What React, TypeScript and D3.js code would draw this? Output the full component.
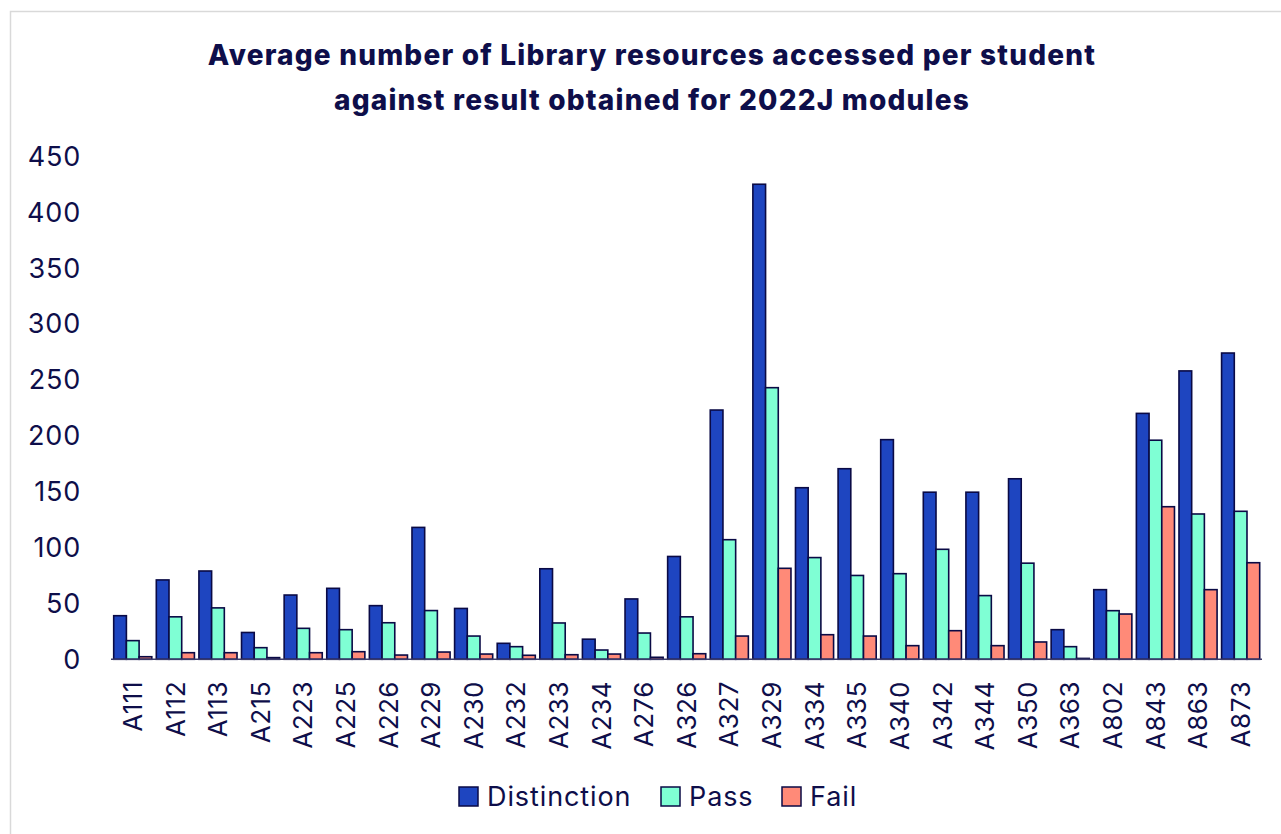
import React from "react";
import * as d3 from "d3";

const categories = ["A111","A112","A113","A215","A223","A225","A226","A229","A230","A232","A233","A234","A276","A326","A327","A329","A334","A335","A340","A342","A344","A350","A363","A802","A843","A863","A873"];
const distinction = [39,71,79,24,57.5,63.5,48,118,45.5,14.3,81,18,54,92,223,425,153.5,170.5,196.5,149.5,149.5,161.5,26.5,62.3,220,258,274];
const pass = [16.7,38,46,10.4,27.7,26.5,32.7,43.6,20.8,11.3,32.5,8.3,23.5,38,107,243,91,75,76.6,98.4,57,86,11.3,43.5,196,130,132.4];
const fail = [2.3,5.9,5.9,1.5,5.9,6.8,3.8,6.5,4.7,3.6,4.1,4.7,1.8,5,20.8,81.4,22,20.8,12.2,25.6,12.2,15.5,0.8,40.5,136.5,62.3,86.4];
const seriesNames = ["Distinction","Pass","Fail"];
const seriesColors = ["#1E45C0","#7FFFD4","#FF8A78"];
const yTicks = [0,50,100,150,200,250,300,350,400,450];
const titleLines = ["Average number of Library resources accessed per student","against result obtained for 2022J modules"];

const W = 1281, H = 834;
const TEXT = "#0E0E4A";
const STROKE = "#0A0A45";
const FONT = "Inter, 'Noto Sans', sans-serif";

export default function App() {
  const x = d3.scaleBand<string>().domain(categories).range([111.5, 1262]).paddingInner(0).paddingOuter(0);
  const x1 = d3.scaleBand<string>().domain(seriesNames).range([2.2, 40.3]).padding(0);
  const y = d3.scaleLinear().domain([0, 450]).range([659.3, 156.3]);
  const data = [distinction, pass, fail];

  return (
    <svg width={W} height={H} style={{ position: "absolute", left: 0, top: 0, background: "#fff" }}>
      <rect x={10.5} y={11.5} width={W} height={H} fill="#fff" stroke="#d9d9d9" strokeWidth={1.5} />
      {titleLines.map((t, i) => (
        <text key={i} x={652} y={65 + i * 45} textAnchor="middle" fontFamily={FONT} fontWeight={800} fontSize={28} fill={TEXT} letterSpacing={1.2}>{t}</text>
      ))}
      {yTicks.map((t) => (
        <text key={t} x={81} y={y(t)} dy="0.35em" textAnchor="end" fontFamily={FONT} fontSize={27} fill={TEXT} letterSpacing={0.8}>{t}</text>
      ))}
      {categories.map((c, i) => (
        <g key={c} transform={`translate(${x(c)},0)`}>
          {data.map((s, j) => (
            <rect key={j} x={x1(seriesNames[j])!} y={y(s[i])} width={x1.bandwidth()} height={y(0) - y(s[i])}
              fill={seriesColors[j]} stroke={STROKE} strokeWidth={1.6} />
          ))}
        </g>
      ))}
      <line x1={111} x2={1262} y1={y(0)} y2={y(0)} stroke="#3a3a6a" strokeWidth={1.5} />
      {categories.map((c) => (
        <text key={c} transform={`translate(${x(c)! + x.bandwidth() / 2},${681}) rotate(-90)`} textAnchor="end" dy="0.35em"
          fontFamily={FONT} fontSize={26} fill={TEXT} letterSpacing={0.5}>{c}</text>
      ))}
      {seriesNames.map((n, i) => {
        const lx = [459, 661, 782][i];
        return (
          <g key={n}>
            <rect x={lx} y={787} width={19} height={19} fill={seriesColors[i]} stroke={STROKE} strokeWidth={1.5} />
            <text x={lx + 28} y={797} dy="0.35em" fontFamily={FONT} fontSize={27} fill={TEXT} letterSpacing={0.9}>{n}</text>
          </g>
        );
      })}
    </svg>
  );
}
